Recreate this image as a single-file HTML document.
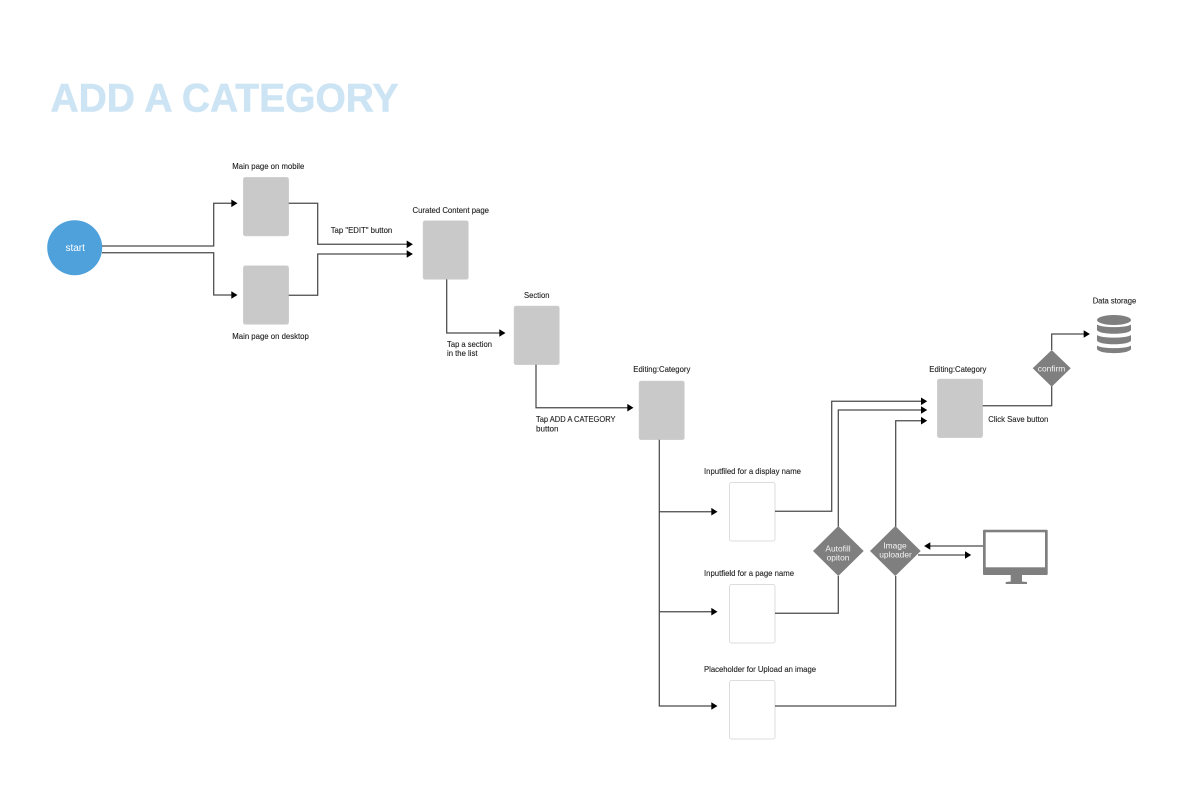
<!DOCTYPE html>
<html><head><meta charset="utf-8"><style>
html,body{margin:0;padding:0;background:#fff}
svg{display:block}
text{font-family:"Liberation Sans",sans-serif;font-size:8.4px;fill:#222;stroke:#222;stroke-width:.12}
.l{fill:none;stroke:#4a4a4a;stroke-width:1.25}
.g{fill:#c9c9c9;stroke:#d2d2d2;stroke-width:.5}
.w{fill:#fff;stroke:#ddd;stroke-width:1}
.d{fill:#7f7f7f}
.t{fill:#f4f4f4;stroke:none;text-anchor:middle}
.a{fill:#000}
</style></head><body>
<svg width="1200" height="793" viewBox="0 0 1200 793" xmlns="http://www.w3.org/2000/svg">
<text x="50.5" y="111.7" textLength="348" lengthAdjust="spacingAndGlyphs" style="font-size:39.5px;font-weight:700;fill:#cde4f4;stroke:#cde4f4;stroke-width:.6">ADD A CATEGORY</text>

<circle cx="74.7" cy="247.7" r="27.5" fill="#4fa1dc"/>
<text x="75.2" y="251" class="t" style="font-size:10px;fill:#fff">start</text>

<!-- gray boxes -->
<rect class="g" x="243.3" y="177.3" width="45.4" height="58.7" rx="2"/>
<rect class="g" x="243.3" y="265.7" width="45.4" height="58.7" rx="2"/>
<rect class="g" x="423" y="220.7" width="45.4" height="58.7" rx="2"/>
<rect class="g" x="514" y="306" width="45.4" height="58.7" rx="2"/>
<rect class="g" x="639" y="381" width="45.4" height="58.7" rx="2"/>
<rect class="g" x="937.3" y="379" width="45.4" height="58.7" rx="2"/>
<!-- white boxes -->
<rect class="w" x="729.5" y="482.5" width="45.5" height="58.5" rx="2"/>
<rect class="w" x="729.5" y="584.5" width="45.5" height="58.5" rx="2"/>
<rect class="w" x="729.5" y="680.5" width="45.5" height="58.5" rx="2"/>

<!-- connectors -->
<path class="l" d="M102 246H213.7V203.3H232"/>
<path class="l" d="M102 252.7H213.7V295H232"/>
<path class="l" d="M288.7 203.3H317.7V244.3H408"/>
<path class="l" d="M288.7 295.3H317.7V254H408"/>
<path class="l" d="M446.7 279.4V333H500"/>
<path class="l" d="M536 364.7V407.7H628"/>
<path class="l" d="M659.3 439.7V706H712"/>
<path class="l" d="M659.3 511.7H712"/>
<path class="l" d="M659.3 611.7H712"/>
<path class="l" d="M775 511.3H831.7V401.3H922"/>
<path class="l" d="M838.3 527V410H922"/>
<path class="l" d="M895.7 527V420.7H922"/>
<path class="l" d="M775 613.3H838.3V576"/>
<path class="l" d="M775 706H895.7V576"/>
<path class="l" d="M983.3 546H929"/>
<path class="l" d="M918 555H966"/>
<path class="l" d="M982.7 405.7H1051.7V386"/>
<path class="l" d="M1051.7 350V334H1084"/>

<!-- arrowheads -->
<path class="a" d="M231.3 199.5L237.5 203.3L231.3 207.1Z"/>
<path class="a" d="M231.3 291.2L237.5 295L231.3 298.8Z"/>
<path class="a" d="M406.7 240.5L412.9 244.3L406.7 248.1Z"/>
<path class="a" d="M406.7 250.2L412.9 254L406.7 257.8Z"/>
<path class="a" d="M499.3 329.2L505.5 333L499.3 336.8Z"/>
<path class="a" d="M627.3 403.9L633.5 407.7L627.3 411.5Z"/>
<path class="a" d="M711.3 507.9L717.5 511.7L711.3 515.5Z"/>
<path class="a" d="M711.3 607.9L717.5 611.7L711.3 615.5Z"/>
<path class="a" d="M711.3 702.2L717.5 706L711.3 709.8Z"/>
<path class="a" d="M921 397.5L927.2 401.3L921 405.1Z"/>
<path class="a" d="M921 406.2L927.2 410L921 413.8Z"/>
<path class="a" d="M921 416.9L927.2 420.7L921 424.5Z"/>
<path class="a" d="M930.3 542.2L924.1 546L930.3 549.8Z"/>
<path class="a" d="M965 551.2L971.2 555L965 558.8Z"/>
<path class="a" d="M1083.7 330.2L1089.9 334L1083.7 337.8Z"/>

<!-- diamonds -->
<path class="d" d="M838.3 526L863.7 551L838.3 576L813 551Z"/>
<path class="d" d="M895.3 526L920.7 551L895.3 576L870 551Z"/>
<path class="d" d="M1051.7 350L1070.7 368.3L1051.7 386.7L1032.7 368.3Z"/>
<text class="t" x="838" y="551.5">Autofill</text>
<text class="t" x="838" y="560.3">opiton</text>
<text class="t" x="895" y="548.5">Image</text>
<text class="t" x="895.5" y="557.3">uploader</text>
<text class="t" x="1051.5" y="371.3">confirm</text>

<!-- monitor -->
<rect x="983" y="529.7" width="64.7" height="45.3" rx="1" fill="#7f7f7f"/>
<rect x="985.7" y="532.3" width="59.3" height="35" fill="#fff"/>
<path d="M1010.7 575H1022V581.5L1027 582V584H1005.7V582L1010.7 581.5Z" fill="#7f7f7f"/>

<!-- database -->
<g fill="#7f7f7f">
<ellipse cx="1114" cy="320" rx="17" ry="5"/>
<path d="M1097 324.5C1101 328 1127 328 1131 324.5V330C1129 335 1099 335 1097 330Z"/>
<path d="M1097 335C1101 338.5 1127 338.5 1131 335V340.5C1129 345.5 1099 345.5 1097 340.5Z"/>
<path d="M1097 345.5C1101 349 1127 349 1131 345.5V349C1129 354.5 1099 354.5 1097 349Z"/>
</g>

<!-- labels -->
<text x="232.3" y="169" textLength="72" lengthAdjust="spacingAndGlyphs">Main page on mobile</text>
<text x="232.3" y="338.8" textLength="76.5" lengthAdjust="spacingAndGlyphs">Main page on desktop</text>
<text x="330.7" y="232.8" textLength="61.5" lengthAdjust="spacingAndGlyphs">Tap "EDIT" button</text>
<text x="412.5" y="213" textLength="76.5" lengthAdjust="spacingAndGlyphs">Curated Content page</text>
<text x="524" y="298.2" textLength="25.5" lengthAdjust="spacingAndGlyphs">Section</text>
<text x="447" y="347.2" textLength="45" lengthAdjust="spacingAndGlyphs">Tap a section</text>
<text x="447" y="356.2" textLength="30.5" lengthAdjust="spacingAndGlyphs">in the list</text>
<text x="633.3" y="372.2" textLength="57" lengthAdjust="spacingAndGlyphs">Editing:Category</text>
<text x="536" y="422.2" textLength="79.5" lengthAdjust="spacingAndGlyphs">Tap ADD A CATEGORY</text>
<text x="536" y="431.4" textLength="22.5" lengthAdjust="spacingAndGlyphs">button</text>
<text x="704" y="474.2" textLength="97" lengthAdjust="spacingAndGlyphs">Inputfiled for a display name</text>
<text x="704" y="575.8" textLength="90" lengthAdjust="spacingAndGlyphs">Inputfield for a page name</text>
<text x="704" y="672" textLength="112" lengthAdjust="spacingAndGlyphs">Placeholder for Upload an image</text>
<text x="929.3" y="372.2" textLength="57" lengthAdjust="spacingAndGlyphs">Editing:Category</text>
<text x="988.3" y="422.2" textLength="60" lengthAdjust="spacingAndGlyphs">Click Save button</text>
<text x="1092.7" y="303.7" textLength="43.5" lengthAdjust="spacingAndGlyphs">Data storage</text>
</svg>
</body></html>
